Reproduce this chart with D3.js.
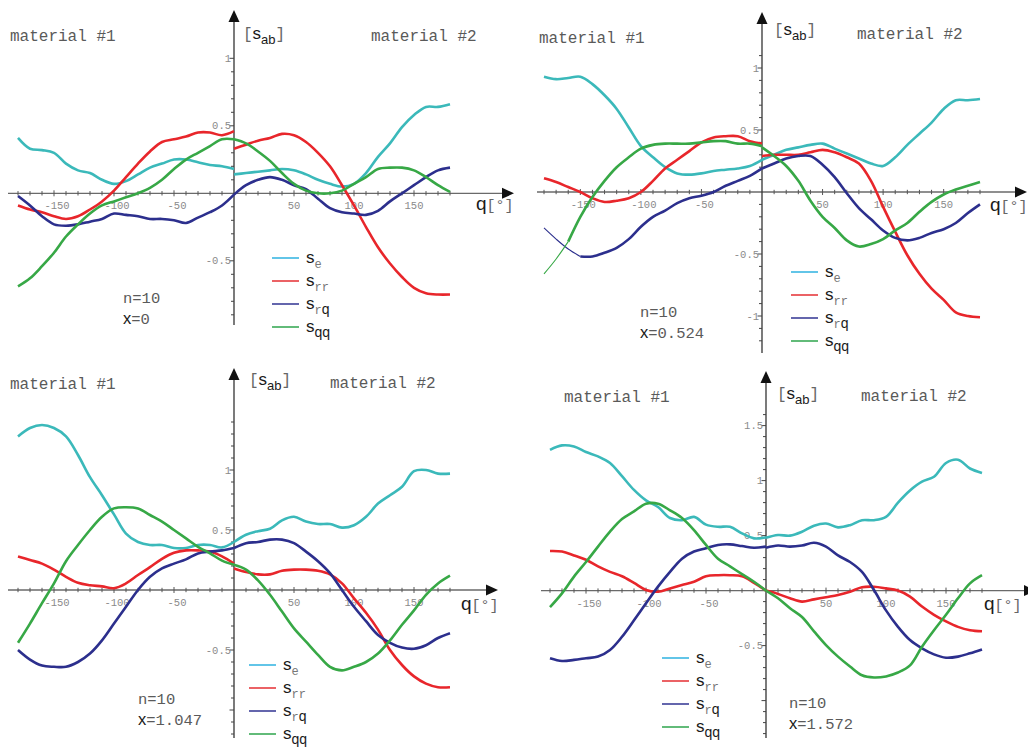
<!DOCTYPE html>
<html><head><meta charset="utf-8">
<script src="https://cdn.jsdelivr.net/npm/d3@7"></script>
<style>body{margin:0;background:#fff}svg{display:block}</style>
</head><body>
<svg id="c" width="1028" height="749"></svg>
<script>
// ---------------- data ----------------
const anglesLeft  = [-180,-170,-160,-150,-140,-130,-120,-110,-100,-90,-80,-70,-60,-50,-40,-30,-20,-10,0];
const anglesRight = [0,10,20,30,40,50,60,70,80,90,100,110,120,130,140,150,160,170,180];
const xTickLabels = [-150,-100,-50,50,100,150];
const seriesKeys  = ["e","rr","rq","qq"];
const xiValues    = ["0","0.524","1.047","1.572"];
const nValue      = "10";
const yTickLabelsP1 = [1,0.5,-0.5];
const yTickLabelsP2 = [1,0.5,-0.5,-1];
const yTickLabelsP3 = [1,0.5,-0.5];
const yTickLabelsP4 = [1.5,1,0.5,-0.5];

// each series: 19 values for material #1 (-180..0) then 19 values for material #2 (0..180)
const p1_se = [0.41,0.33,0.32,0.30,0.22,0.17,0.15,0.10,0.07,0.09,0.14,0.19,0.22,0.25,0.25,0.23,0.21,0.20,0.18,
               0.14,0.15,0.16,0.17,0.18,0.17,0.14,0.10,0.07,0.05,0.07,0.15,0.27,0.37,0.49,0.58,0.64,0.64,0.66];
const p1_rr = [-0.09,-0.12,-0.14,-0.17,-0.19,-0.17,-0.12,-0.06,0.02,0.12,0.22,0.31,0.38,0.40,0.42,0.45,0.45,0.43,0.46,
               0.33,0.36,0.39,0.41,0.44,0.43,0.38,0.30,0.20,0.06,-0.09,-0.25,-0.40,-0.52,-0.62,-0.70,-0.74,-0.75,-0.75];
const p1_rq = [-0.02,-0.09,-0.17,-0.23,-0.24,-0.23,-0.21,-0.19,-0.15,-0.16,-0.17,-0.19,-0.19,-0.20,-0.22,-0.18,-0.14,-0.09,-0.01,
               -0.01,0.06,0.10,0.12,0.10,0.06,0.03,-0.04,-0.11,-0.14,-0.15,-0.16,-0.13,-0.06,0.00,0.06,0.12,0.17,0.19];
const p1_qq = [-0.69,-0.63,-0.54,-0.44,-0.32,-0.23,-0.15,-0.09,-0.06,-0.03,0.00,0.04,0.10,0.18,0.25,0.30,0.35,0.40,0.40,
               0.40,0.37,0.31,0.24,0.15,0.07,0.02,0.00,0.00,0.02,0.07,0.12,0.18,0.19,0.19,0.17,0.12,0.06,0.01];

const p2_se = [0.93,0.91,0.92,0.93,0.87,0.78,0.67,0.52,0.37,0.28,0.20,0.15,0.14,0.15,0.17,0.18,0.19,0.21,0.26,
               0.26,0.30,0.34,0.36,0.38,0.39,0.35,0.31,0.27,0.23,0.21,0.28,0.38,0.47,0.56,0.67,0.74,0.74,0.75];
const p2_rr = [0.11,0.08,0.04,0.00,-0.05,-0.08,-0.07,-0.05,0.00,0.09,0.19,0.26,0.33,0.40,0.44,0.45,0.45,0.41,0.39,
               0.29,0.30,0.30,0.30,0.32,0.34,0.32,0.28,0.23,0.09,-0.12,-0.32,-0.51,-0.66,-0.78,-0.87,-0.97,-1.00,-1.01];
const p2_rq = [-0.29,-0.38,-0.46,-0.52,-0.52,-0.49,-0.45,-0.38,-0.28,-0.20,-0.15,-0.09,-0.05,-0.03,0.00,0.05,0.09,0.13,0.19,
               0.19,0.23,0.27,0.29,0.29,0.22,0.12,-0.01,-0.13,-0.22,-0.31,-0.37,-0.39,-0.37,-0.33,-0.30,-0.25,-0.17,-0.10];
const p2_qq = [-0.66,-0.54,-0.40,-0.20,-0.04,0.09,0.20,0.28,0.35,0.38,0.39,0.39,0.39,0.40,0.41,0.41,0.39,0.39,0.37,
               0.36,0.29,0.21,0.09,-0.07,-0.20,-0.29,-0.39,-0.44,-0.42,-0.38,-0.31,-0.25,-0.16,-0.08,-0.02,0.02,0.05,0.08];

const p3_se = [1.28,1.35,1.375,1.35,1.28,1.125,0.94,0.79,0.63,0.47,0.40,0.375,0.375,0.35,0.35,0.375,0.375,0.355,0.40,
               0.40,0.46,0.49,0.51,0.58,0.61,0.57,0.55,0.55,0.52,0.54,0.61,0.72,0.79,0.86,0.99,1.00,0.97,0.97];
const p3_rr = [0.28,0.25,0.22,0.17,0.11,0.06,0.04,0.03,0.015,0.055,0.125,0.19,0.26,0.31,0.33,0.33,0.32,0.28,0.22,
               0.18,0.15,0.13,0.13,0.16,0.17,0.17,0.16,0.13,0.055,-0.07,-0.19,-0.33,-0.50,-0.625,-0.72,-0.78,-0.81,-0.81];
const p3_rq = [-0.50,-0.58,-0.63,-0.64,-0.64,-0.60,-0.53,-0.42,-0.28,-0.14,0.00,0.11,0.18,0.22,0.255,0.305,0.32,0.33,0.35,
               0.35,0.39,0.40,0.42,0.42,0.39,0.32,0.24,0.14,0.00,-0.14,-0.26,-0.375,-0.44,-0.48,-0.49,-0.46,-0.40,-0.36];
const p3_qq = [-0.44,-0.28,-0.11,0.055,0.24,0.375,0.50,0.61,0.68,0.69,0.68,0.625,0.57,0.50,0.43,0.36,0.305,0.245,0.21,
               0.21,0.17,0.08,-0.04,-0.18,-0.32,-0.43,-0.54,-0.64,-0.67,-0.64,-0.60,-0.53,-0.42,-0.29,-0.17,-0.04,0.055,0.12];

const p4_se = [1.28,1.32,1.31,1.26,1.22,1.16,1.04,0.915,0.82,0.76,0.66,0.64,0.67,0.60,0.58,0.58,0.52,0.475,0.485,
               0.48,0.505,0.50,0.535,0.59,0.61,0.575,0.595,0.64,0.64,0.67,0.80,0.91,0.99,1.035,1.16,1.19,1.11,1.07];
const p4_rr = [0.36,0.355,0.32,0.28,0.22,0.17,0.13,0.07,0.006,-0.01,0.02,0.05,0.08,0.13,0.14,0.14,0.13,0.07,0.0,
               0.0,-0.03,-0.07,-0.10,-0.08,-0.06,-0.04,-0.01,0.03,0.035,0.02,0.0,-0.055,-0.145,-0.22,-0.28,-0.33,-0.36,-0.37];
const p4_rq = [-0.615,-0.64,-0.63,-0.615,-0.60,-0.54,-0.42,-0.27,-0.115,0.036,0.17,0.29,0.355,0.385,0.415,0.42,0.405,0.39,0.40,
               0.39,0.41,0.40,0.41,0.435,0.40,0.32,0.26,0.17,0.005,-0.18,-0.33,-0.45,-0.525,-0.58,-0.61,-0.60,-0.57,-0.535];
const p4_qq = [-0.15,-0.025,0.127,0.26,0.40,0.536,0.65,0.72,0.79,0.79,0.73,0.66,0.55,0.415,0.29,0.22,0.15,0.08,0.0,
               0.0,-0.07,-0.16,-0.24,-0.37,-0.495,-0.60,-0.69,-0.77,-0.79,-0.78,-0.745,-0.68,-0.51,-0.36,-0.22,-0.07,0.066,0.14];

// ---------------- styles ----------------
const MONO = "'Liberation Mono','Courier New',monospace";
const SANS = "'Liberation Sans',Arial,sans-serif";
const lineColors   = {e:"#3bb9ba", rr:"#e8262b", rq:"#2c2f8d", qq:"#37a846"};
const legendColors = {e:"#3ab6e2", rr:"#e63a3e", rq:"#3d3f98", qq:"#3aaa57"};

const panels = [
  {data:[p1_se,p1_rr,p1_rq,p1_qq], xi:xiValues[0], yLabels:yTickLabelsP1,
   xr:[18,450], y0:193.3, unit:135, xAxis:[8,514], yAxis:[325,10], yTicks:[-0.9,1.0],
   mat1:[10,41], mat2:[371,41], sab:[243,39], q:[476,210], nx:[123,303], leg:[272,258], thin:{}},
  {data:[p2_se,p2_rr,p2_rq,p2_qq], xi:xiValues[1], yLabels:yTickLabelsP2,
   xr:[544,980], y0:192, unit:124, xAxis:[537,1027], yAxis:[353,12], yTicks:[-1.2,1.1],
   mat1:[539,43], mat2:[857,39], sab:[774,35], q:[990,211], nx:[640,317], leg:[791,272], thin:{rq:3, qq:2}},
  {data:[p3_se,p3_rr,p3_rq,p3_qq], xi:xiValues[2], yLabels:yTickLabelsP3,
   xr:[18,450], y0:590, unit:120, xAxis:[8,498], yAxis:[738,368], yTicks:[-1.2,1.4],
   mat1:[10,389], mat2:[330,388], sab:[249,385], q:[461,610], nx:[138,704], leg:[249,665], thin:{}},
  {data:[p4_se,p4_rr,p4_rq,p4_qq], xi:xiValues[3], yLabels:yTickLabelsP4,
   xr:[550,982], y0:590.6, unit:110, xAxis:[541,1036], yAxis:[738,371], yTicks:[-1.3,1.6],
   mat1:[564,402], mat2:[861,401], sab:[777,399], q:[984,610], nx:[789,708], leg:[662,658], thin:{}}
];

const svg = d3.select("#c");

function rich(g, x, y, parts, anchor) {
  const t = g.append("text").attr("x", x).attr("y", y);
  if (anchor) t.attr("text-anchor", anchor);
  parts.forEach(p => {
    const s = t.append("tspan").attr("font-family", p.f).attr("font-size", p.s)
      .attr("fill", p.c).text(p.t);
    if (p.dy) s.attr("dy", p.dy);
  });
  return t;
}

panels.forEach(P => {
  const g = svg.append("g");
  const x = d3.scaleLinear().domain([-180, 180]).range(P.xr);
  const y = d3.scaleLinear().domain([0, 1]).range([P.y0, P.y0 - P.unit]);
  const ox = x(0);

  // x axis
  g.append("line").attr("x1", P.xAxis[0]).attr("x2", P.xAxis[1] - 8)
    .attr("y1", P.y0).attr("y2", P.y0).attr("stroke", "#6a6a6a").attr("stroke-width", 1.3);
  g.append("path").attr("d", `M${P.xAxis[1]},${P.y0} L${P.xAxis[1]-12},${P.y0-5.5} L${P.xAxis[1]-12},${P.y0+5.5} Z`)
    .attr("fill", "#111");
  const xt = d3.range(-18, 19).map(k => k * 10).filter(v => v !== 0);
  g.selectAll(null).data(xt).enter().append("line")
    .attr("x1", d => x(d)).attr("x2", d => x(d))
    .attr("y1", d => P.y0 - (d % 50 === 0 ? 3 : 2.2)).attr("y2", d => P.y0 + (d % 50 === 0 ? 3 : 2.2))
    .attr("stroke", "#555").attr("stroke-width", 1);
  g.selectAll(null).data(xTickLabels).enter().append("text")
    .attr("x", d => x(d) + (d < 0 ? 3 : 0)).attr("y", P.y0 + 16)
    .attr("text-anchor", "middle").attr("font-family", MONO).attr("font-size", 10.5)
    .attr("fill", "#8a8a8a").text(d => d);

  // y axis
  g.append("line").attr("x1", ox).attr("x2", ox).attr("y1", P.yAxis[0]).attr("y2", P.yAxis[1] + 8)
    .attr("stroke", "#333").attr("stroke-width", 1.3);
  g.append("path").attr("d", `M${ox},${P.yAxis[1]} L${ox-5.5},${P.yAxis[1]+12} L${ox+5.5},${P.yAxis[1]+12} Z`)
    .attr("fill", "#111");
  const yt = d3.range(Math.round(P.yTicks[0]*10), Math.round(P.yTicks[1]*10) + 1).map(k => k / 10).filter(v => v !== 0);
  g.selectAll(null).data(yt).enter().append("line")
    .attr("x1", d => ox - (Math.abs(Math.round(d*10)) % 5 === 0 ? 4.5 : 3)).attr("x2", ox)
    .attr("y1", d => y(d)).attr("y2", d => y(d))
    .attr("stroke", "#444").attr("stroke-width", 1);
  g.selectAll(null).data(P.yLabels).enter().append("text")
    .attr("x", ox - 3).attr("y", d => y(d) + 3.5)
    .attr("text-anchor", "end").attr("font-family", MONO).attr("font-size", 10.5)
    .attr("fill", "#8a8a8a").text(d => d < 0 ? "-" + String(-d) : String(d));

  // curves
  const line = d3.line().x(d => x(d[0])).y(d => y(d[1])).curve(d3.curveCatmullRom.alpha(0.5));
  seriesKeys.forEach((k, i) => {
    const vals = P.data[i];
    const left = anglesLeft.map((a, j) => [a, vals[j]]);
    const right = anglesRight.map((a, j) => [a, vals[j + anglesLeft.length]]);
    const thinTo = P.thin[k];
    if (thinTo) {
      g.append("path").attr("d", line(left.slice(0, thinTo + 1))).attr("fill", "none")
        .attr("stroke", lineColors[k]).attr("stroke-width", 1.1);
      g.append("path").attr("d", line(left.slice(thinTo))).attr("fill", "none")
        .attr("stroke", lineColors[k]).attr("stroke-width", 2.6).attr("stroke-linejoin", "round");
    } else {
      g.append("path").attr("d", line(left)).attr("fill", "none")
        .attr("stroke", lineColors[k]).attr("stroke-width", 2.6).attr("stroke-linejoin", "round");
    }
    g.append("path").attr("d", line(right)).attr("fill", "none")
      .attr("stroke", lineColors[k]).attr("stroke-width", 2.6).attr("stroke-linejoin", "round");
  });

  // texts
  rich(g, P.mat1[0], P.mat1[1], [{t:"material #1", f:MONO, s:16, c:"#5a5a5a"}]).attr("xml:space","preserve");
  rich(g, P.mat2[0], P.mat2[1], [{t:"material #2", f:MONO, s:16, c:"#5a5a5a"}]);
  rich(g, P.sab[0], P.sab[1], [
    {t:"[", f:MONO, s:16, c:"#666"},
    {t:"s", f:SANS, s:17, c:"#1a1a1a"},
    {t:"ab", f:SANS, s:13, c:"#1a1a1a", dy:5},
    {t:"]", f:MONO, s:16, c:"#666", dy:-5}]);
  rich(g, P.q[0], P.q[1], [
    {t:"q", f:SANS, s:19, c:"#1a1a1a"},
    {t:"[°]", f:MONO, s:15, c:"#666"}]);
  rich(g, P.nx[0], P.nx[1], [{t:"n=" + nValue, f:MONO, s:15.5, c:"#5a5a5a"}]);
  rich(g, P.nx[0], P.nx[1] + 21, [
    {t:"x", f:SANS, s:16.5, c:"#1a1a1a"},
    {t:"=" + P.xi, f:MONO, s:15.5, c:"#5a5a5a"}]);

  // legend
  const subs = {
    e:  [{t:"e", f:MONO, s:12, c:"#777", dy:5}],
    rr: [{t:"rr", f:MONO, s:12, c:"#777", dy:5}],
    rq: [{t:"r", f:MONO, s:12, c:"#777", dy:5}, {t:"q", f:SANS, s:14, c:"#1a1a1a"}],
    qq: [{t:"qq", f:SANS, s:14, c:"#1a1a1a", dy:5}]
  };
  seriesKeys.forEach((k, i) => {
    const ly = P.leg[1] + i * 23;
    g.append("line").attr("x1", P.leg[0]).attr("x2", P.leg[0] + 27).attr("y1", ly).attr("y2", ly)
      .attr("stroke", legendColors[k]).attr("stroke-width", 1.6);
    rich(g, P.leg[0] + 34, ly + 4.5, [{t:"s", f:SANS, s:17, c:"#1a1a1a"}].concat(subs[k]));
  });
});
</script>
</body></html>
